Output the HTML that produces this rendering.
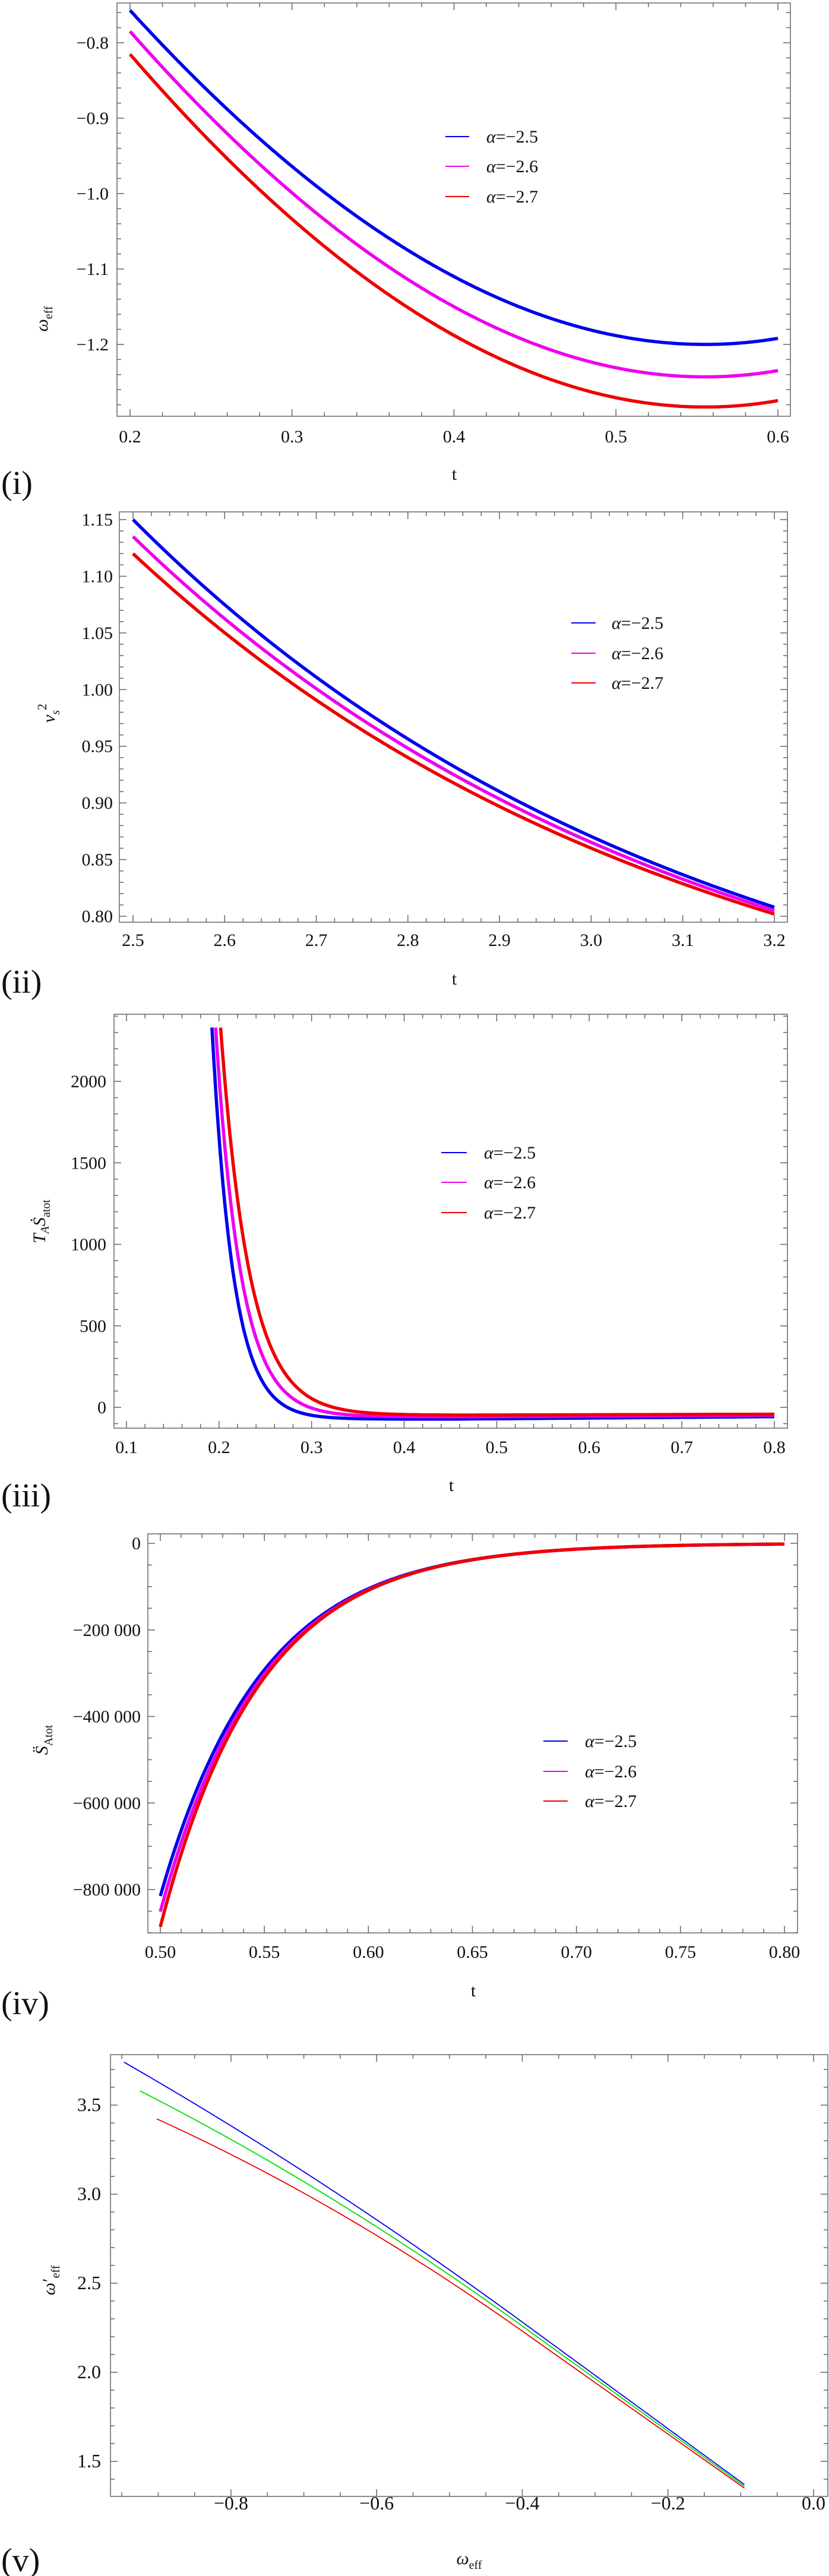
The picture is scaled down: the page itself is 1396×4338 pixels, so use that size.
<!DOCTYPE html>
<html><head><meta charset="utf-8">
<style>
html,body{margin:0;padding:0;background:#fff;}
svg{display:block;}
text{font-family:"Liberation Serif",serif;fill:#111;}
</style></head>
<body>
<svg id="s" width="1396" height="4338" xmlns="http://www.w3.org/2000/svg"></svg>
<script>
var S=document.getElementById('s');
var NS='http://www.w3.org/2000/svg';
function el(t,a,p){var e=document.createElementNS(NS,t);for(var k in a)e.setAttribute(k,a[k]);(p||S).appendChild(e);return e;}
function txt(x,y,s,a){var o={x:x,y:y,'font-size':30};for(var k in a)o[k]=a[k];var e=el('text',o);e.innerHTML=s;return e;}
function plot(c){
  var X=function(v){return c.x0p+(v-c.x0)*(c.x1p-c.x0p)/(c.x1-c.x0);};
  var Y=function(v){return c.y0p+(v-c.y0)*(c.y1p-c.y0p)/(c.y1-c.y0);};
  var L=c.L,R=c.R,T=c.T,B=c.B;
  var g=el('g',{stroke:'#666','stroke-width':1.5,fill:'none'});
  el('rect',{x:L,y:T,width:R-L,height:B-T},g);
  for(var v=c.xt0; v<=c.xt1+1e-9; v+=c.xm){
    var px=X(v); if(px<L-0.5||px>R+0.5) continue;
    var maj=Math.abs(Math.round(v/c.xM)*c.xM-v)<c.xm/10;
    var len=maj?12:7;
    el('line',{x1:px,y1:B,x2:px,y2:B-len},g);el('line',{x1:px,y1:T,x2:px,y2:T+len},g);
    if(maj) txt(px,c.xlabY,c.xfmt(v),{'text-anchor':'middle','font-size':c.fs||30});
  }
  for(var v=c.yt0; v<=c.yt1+1e-9; v+=c.ym){
    var py=Y(v); if(py<T-0.5||py>B+0.5) continue;
    var maj=Math.abs(Math.round(v/c.yM)*c.yM-v)<c.ym/10;
    var len=maj?12:7;
    el('line',{x1:L,y1:py,x2:L+len,y2:py},g);el('line',{x1:R,y1:py,x2:R-len,y2:py},g);
    if(maj) txt(c.ylabX,py+10,c.yfmt(v),{'text-anchor':'end','font-size':c.fs||30});
  }
  c.series.forEach(function(s){
    var d='';
    for(var i=0;i<=400;i++){var v=s.a+(s.b-s.a)*i/400;var y=s.f(v);var py=Y(y);
      if(py<T)py=T+1; if(py>B)py=B-1;
      d+=(i?'L':'M')+X(v).toFixed(1)+' '+py.toFixed(1);}
    el('path',{d:d,stroke:s.col,'stroke-width':c.lw,fill:'none','stroke-linejoin':'round'});
  });
  if(c.leg){c.leg.y.forEach(function(yy,i){
    el('line',{x1:c.leg.x1,x2:c.leg.x2,y1:yy,y2:yy,stroke:c.series[i].col,'stroke-width':2});
    txt(c.leg.tx,yy+10,'<tspan font-style="italic">α</tspan>=−2.'+(5+i),{'font-size':30});
  });}
}
function f2(d){return function(v){return (v<0?'−':'')+Math.abs(v).toFixed(d);};}
function bigfmt(v){v=Math.round(v);if(v==0)return '0';var a=Math.abs(v);var s=String(a);s=s.replace(/(\d)(?=(\d{3})+$)/g,'$1 ');return (v<0?'−':'')+s;}
var cols=['#0000ee','#ee00ee','#ee0000'];
// Panel i
function pi(a,s){return function(t){var d=t-0.555;return a+s*(3.92*d*d+1.14*d*d*d);};}
plot({L:197,R:1331,T:5,B:701,x0:0.2,x1:0.6,x0p:219,x1p:1310,y0:-0.8,y1:-1.2,y0p:72,y1p:580,
 xt0:0.18,xt1:0.62,xm:0.02,xM:0.1,yt0:-1.3,yt1:-0.74,ym:0.02,yM:0.1,xlabY:745,ylabX:183,
 xfmt:f2(1),yfmt:f2(1),lw:5.5,
 series:[{a:0.2,b:0.6,col:cols[0],f:pi(-1.2,1)},{a:0.2,b:0.6,col:cols[1],f:pi(-1.243,1.034)},{a:0.2,b:0.6,col:cols[2],f:pi(-1.283,1.056)}],
 leg:{x1:750,x2:790,tx:819,y:[230,280,331]}});
txt(765,808,'t',{'text-anchor':'middle'});
txt(80,537,'<tspan font-style="italic">ω</tspan><tspan font-size="20" dy="8">eff</tspan>',{transform:'rotate(-90 80 537)','text-anchor':'middle'});
txt(2,832,'(i)',{'font-size':56});
// Panel ii
function pii(s,d){var b=d/0.6737;var a=s-b;return function(t){return a+b*Math.exp(-1.6*(t-2.5));};}
plot({L:201,R:1326,T:862,B:1553,x0:2.5,x1:3.2,x0p:224,x1p:1304,y0:1.15,y1:0.8,y0p:875,y1p:1543,
 xt0:2.48,xt1:3.22,xm:0.02,xM:0.1,yt0:0.79,yt1:1.16,ym:0.01,yM:0.05,xlabY:1593,ylabX:190,
 xfmt:f2(1),yfmt:f2(2),lw:5.5,
 series:[{a:2.5,b:3.2,col:cols[0],f:pii(1.15,0.342)},{a:2.5,b:3.2,col:cols[1],f:pii(1.135,0.330)},{a:2.5,b:3.2,col:cols[2],f:pii(1.12,0.318)}],
 leg:{x1:962,x2:1003,tx:1030,y:[1049,1100,1150]}});
txt(765,1658,'t',{'text-anchor':'middle'});
txt(92,1201,'<tspan font-style="italic">v</tspan><tspan font-style="italic" font-size="20" dy="8">s</tspan><tspan font-size="22" dy="-22">2</tspan>',{transform:'rotate(-90 92 1201)','text-anchor':'middle'});
txt(2,1672,'(ii)',{'font-size':56});
// Panel iii
function piii(t0,k,base,end){return function(t){var b=base+(end-base)*Math.max(0,t-0.45)/0.35;return 1500*Math.exp(-k*(t-t0))+b;};}
function st(t0,k,base){return t0-Math.log((2330-base)/1500)/k;}
var p3=[[0.2033,43,-72,-57],[0.209,36.6,-58,-48],[0.2161,32,-48,-42]];
plot({L:192,R:1326,T:1708,B:2405,x0:0.1,x1:0.8,x0p:213,x1p:1304,y0:2000,y1:0,y0p:1821,y1p:2370,
 xt0:0.08,xt1:0.82,xm:0.02,xM:0.1,yt0:-200,yt1:2500,ym:100,yM:500,xlabY:2447,ylabX:179,
 xfmt:f2(1),yfmt:function(v){return String(Math.round(v));},lw:5.5,
 series:p3.map(function(p,i){return {a:st(p[0],p[1],p[2]),b:0.8,col:cols[i],f:piii(p[0],p[1],p[2],p[3])};}),
 leg:{x1:743,x2:786,tx:815,y:[1941,1991,2042]}});
txt(760,2511,'t',{'text-anchor':'middle'});
txt(76,2057,'<tspan font-style="italic">T</tspan><tspan font-style="italic" font-size="20" dy="6">A</tspan><tspan font-style="italic" dy="-6">Ṡ</tspan><tspan font-size="20" dy="8">atot</tspan>',{transform:'rotate(-90 76 2057)','text-anchor':'middle'});
txt(2,2537,'(iii)',{'font-size':56});
// Panel iv
function piv(A,k){return function(t){return -A*Math.exp(-k*(t-0.5));};}
plot({L:249,R:1343,T:2583,B:3255,x0:0.5,x1:0.8,x0p:270,x1p:1321,y0:0,y1:-800000,y0p:2599,y1p:3182,
 xt0:0.49,xt1:0.81,xm:0.01,xM:0.05,yt0:-950000,yt1:50000,ym:50000,yM:200000,xlabY:3297,ylabX:237,
 xfmt:f2(2),yfmt:bigfmt,lw:5.5,
 series:[{a:0.5,b:0.8,col:cols[0],f:piv(815000,20.5)},{a:0.5,b:0.8,col:cols[1],f:piv(851000,20.7)},{a:0.5,b:0.8,col:cols[2],f:piv(886000,21)}],
 leg:{x1:915,x2:956,tx:985,y:[2932,2983,3033]}});
txt(797,3362,'t',{'text-anchor':'middle'});
txt(80,2930,'<tspan font-style="italic">S̈</tspan><tspan font-size="20" dy="8">Atot</tspan>',{transform:'rotate(-90 80 2930)','text-anchor':'middle'});
txt(2,3392,'(iv)',{'font-size':56});
// Panel v
function pv(e,sl,q){return function(x){var m=Math.max(0,-0.4-x);return e-sl*(x+0.095)-q*m*m;};}
plot({L:186,R:1394,T:3460,B:4204,x0:-0.8,x1:0,x0p:389,x1p:1370,y0:3.5,y1:1.5,y0p:3545,y1p:4145,
 xt0:-1.0,xt1:0.05,xm:0.05,xM:0.2,yt0:1.2,yt1:3.9,ym:0.1,yM:0.5,xlabY:4226,ylabX:170,
 xfmt:f2(1),yfmt:f2(1),lw:1.8,fs:32,
 series:[{a:-0.947,b:-0.095,col:'#0000ee',f:pv(1.37,2.99,0.59)},{a:-0.925,b:-0.095,col:'#00dd00',f:pv(1.36,2.95,0.83)},{a:-0.902,b:-0.095,col:'#ee0000',f:pv(1.35,2.89,1.03)}]});
txt(790,4318,'<tspan font-style="italic">ω</tspan><tspan font-size="20" dy="8">eff</tspan>',{'text-anchor':'middle'});
txt(92,3840,'<tspan font-style="italic">ω</tspan><tspan dx="1">′</tspan><tspan font-size="20" dy="8">eff</tspan>',{transform:'rotate(-90 92 3840)','text-anchor':'middle'});
txt(2,4330,'(v)',{'font-size':56});
</script>
</body></html>
